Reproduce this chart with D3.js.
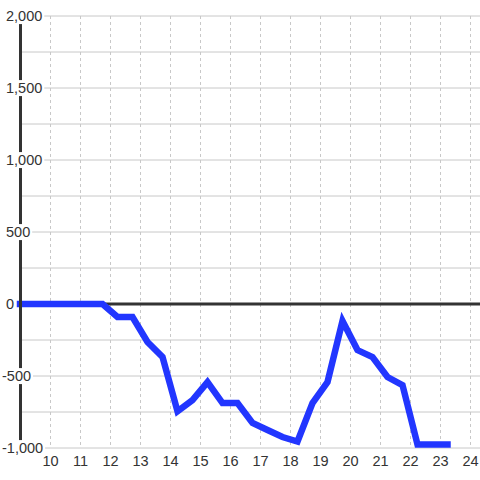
<!DOCTYPE html>
<html>
<head>
<meta charset="utf-8">
<script src="https://cdn.jsdelivr.net/npm/d3@7"></script>
<style>
  body { margin: 0; background: #fff; }
  text { font-family: "Liberation Sans", Arial, sans-serif; font-size: 14.5px; fill: #333; }
</style>
</head>
<body>
<div id="chart"></div>
<script>
(function() {

  var width = 480,
      height = 480;

  // half-hour readings (hour of day)
  var hours = [9, 9.75, 10.25, 10.75, 11.25, 11.75, 12.25, 12.75, 13.25, 13.75,
               14.25, 14.75, 15.25, 15.75, 16.25, 16.75, 17.25, 17.75, 18.25,
               18.75, 19.25, 19.75, 20.25, 20.75, 21.25, 21.75, 22.25, 22.75, 23.25];
  var values = [0, 0, 0, 0, 0, 0, -90, -90, -264, -368,
                -745, -667, -542, -688, -688, -826, -875, -924, -955,
                -688, -542, -118, -320, -368, -507, -563, -976, -976, -976];

  var yTicks = [-1000, -500, 0, 500, 1000, 1500, 2000];
  var yMinor = [-750, -250, 250, 750, 1250, 1750];
  var xTicks = [10, 11, 12, 13, 14, 15, 16, 17, 18, 19, 20, 21, 22, 23, 24];

  var data = hours.map(function(h, i) { return { h: h, v: values[i] }; });

  var x = d3.scaleLinear().domain([9, 24]).range([20, 470]);
  var y = d3.scaleLinear().domain([-1000, 2000]).range([448, 16]);

  var svg = d3.select("#chart")
    .append("svg")
    .attr("width", width)
    .attr("height", height);

  // horizontal grid
  svg.selectAll(".hgrid")
    .data(yTicks.concat(yMinor))
    .enter().append("line")
    .attr("class", "hgrid")
    .attr("x1", x(9)).attr("x2", width)
    .attr("y1", function(d) { return y(d); })
    .attr("y2", function(d) { return y(d); })
    .attr("stroke", "#c8c8c8")
    .attr("stroke-width", 1);

  // vertical dashed grid
  svg.selectAll(".vgrid")
    .data(xTicks)
    .enter().append("line")
    .attr("class", "vgrid")
    .attr("x1", function(d) { return Math.round(x(d)) + 0.5; })
    .attr("x2", function(d) { return Math.round(x(d)) + 0.5; })
    .attr("y1", y(2000)).attr("y2", y(-1000))
    .attr("stroke", "#c8c8c8")
    .attr("stroke-width", 1)
    .attr("stroke-dasharray", "3,3");

  // zero line
  svg.append("line")
    .attr("x1", x(9)).attr("x2", width)
    .attr("y1", y(0)).attr("y2", y(0))
    .attr("stroke", "#333")
    .attr("stroke-width", 3);

  var line = d3.line()
    .x(function(d) { return x(d.h); })
    .y(function(d) { return y(d.v); });

  svg.append("path")
    .datum(data)
    .attr("d", line)
    .attr("fill", "none")
    .attr("stroke", "#2236ff")
    .attr("stroke-width", 6.5)
    .attr("stroke-linecap", "square")
    .attr("stroke-linejoin", "miter");

  // y axis line
  svg.append("line")
    .attr("x1", x(9) + 0.5).attr("x2", x(9) + 0.5)
    .attr("y1", y(2000)).attr("y2", y(-1000))
    .attr("stroke", "#333")
    .attr("stroke-width", 3);

  // y labels with white boxes
  var fmt = d3.format(",");
  var yl = svg.selectAll(".ylab")
    .data(yTicks)
    .enter().append("g")
    .attr("class", "ylab");

  yl.append("rect").attr("fill", "#fff");
  yl.append("text")
    .attr("x", function(d) { return d < 0 ? 2 : 6; })
    .attr("y", function(d) { return y(d); })
    .attr("dy", "0.35em")
    .text(function(d) { return fmt(d).replace("−", "-"); });

  yl.each(function() {
    var g = d3.select(this);
    var b = g.select("text").node().getBBox();
    g.select("rect")
      .attr("x", b.x - 2).attr("y", b.y)
      .attr("width", b.width + 4).attr("height", b.height);
  });

  // x labels
  svg.selectAll(".xlab")
    .data(xTicks)
    .enter().append("text")
    .attr("class", "xlab")
    .attr("x", function(d) { return x(d) + 0.5; })
    .attr("y", 461)
    .attr("dy", "0.35em")
    .attr("text-anchor", "middle")
    .text(function(d) { return d; });

})();
</script>
</body>
</html>
